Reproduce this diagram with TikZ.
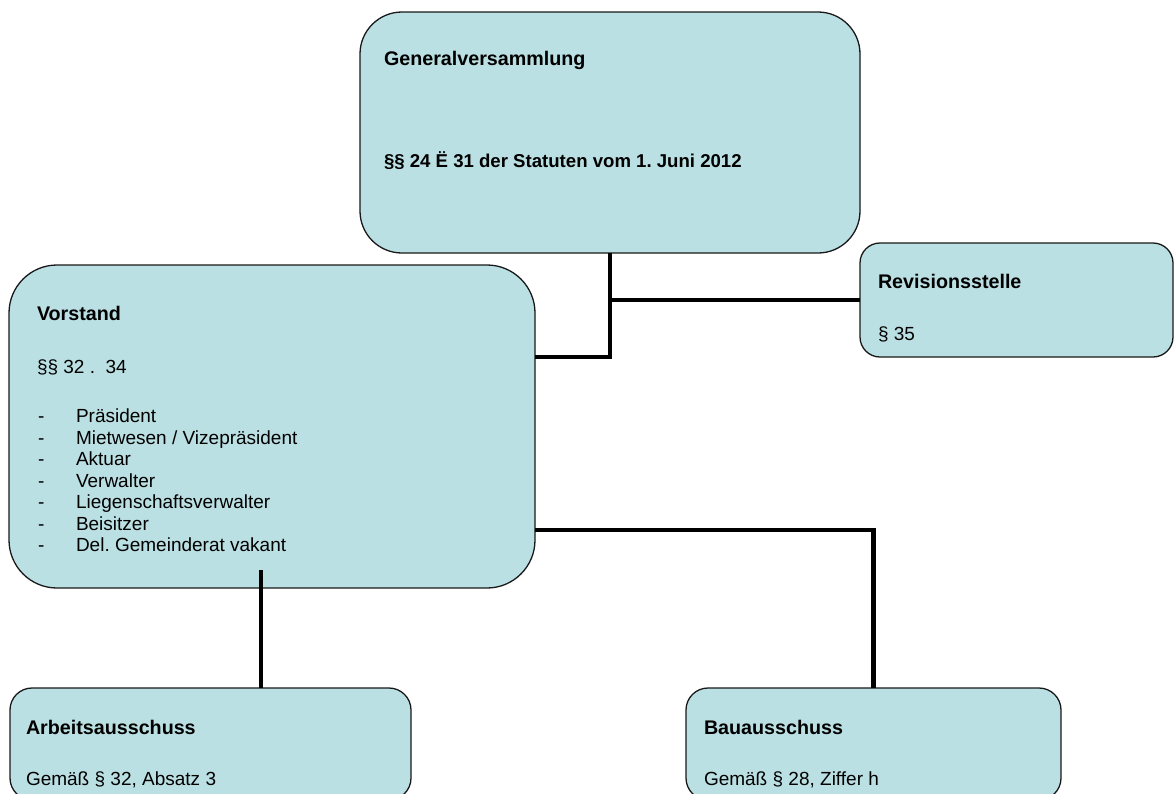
\documentclass[tikz,border=0pt]{standalone}
\usepackage{fontspec}
\setmainfont{Liberation Sans}
\definecolor{boxfill}{RGB}{187,224,227}
\frenchspacing
\begin{document}
\begin{tikzpicture}[x=1pt,y=-1pt,
  box/.style={draw=black!90, line width=1.3pt, fill=boxfill, inner sep=0pt, outer sep=0pt},
  txt/.style={anchor=base west, inner sep=0pt, outer sep=0pt, font=\fontsize{19}{21.5}\selectfont},
  head/.style={anchor=base west, inner sep=0pt, outer sep=0pt, font=\fontsize{19.7}{21.5}\selectfont\bfseries},
  conn/.style={line width=4.6pt, draw=black}]
\useasboundingbox (0,0) rectangle (1174,793);
\clip (0,0) rectangle (1174,793);

% boxes
\node[box, minimum width=500pt, minimum height=241pt, rounded corners=42pt] (gv) at (610,132.5) {};
\node[box, minimum width=313pt, minimum height=114pt, rounded corners=20pt] (rev) at (1016.5,300) {};
\node[box, minimum width=526pt, minimum height=323pt, rounded corners=48pt] (vs) at (272,426.5) {};
\node[box, minimum width=401pt, minimum height=112pt, rounded corners=22pt] (arb) at (210.5,744) {};
\node[box, minimum width=375pt, minimum height=112pt, rounded corners=22pt] (bau) at (873.5,744) {};

% texts
\node[head] (gvt1) at (384,65) {Generalversammlung};
\node[head, font=\fontsize{18.6}{21.5}\selectfont\bfseries] (gvt2) at (384,167) {§§ 24 Ë 31 der Statuten vom 1. Juni 2012};
\node[head] (revt1) at (878,288) {Revisionsstelle};
\node[txt] (revt2) at (878,340) {§ 35};
\node[head] (vst1) at (37,320) {Vorstand};
\node[txt] (vst2) at (37,373) {§§ 32 .\ \ 34};
\foreach \t [count=\i] in {Präsident, Mietwesen / Vizepräsident, Aktuar, Verwalter, Liegenschaftsverwalter, Beisitzer, Del. Gemeinderat vakant}{
  \node[txt] (dash\i) at (38,{422.7+21.5*(\i-1)}) {-};
  \node[txt] (item\i) at (76,{422.7+21.5*(\i-1)}) {\t};
}
\node[head] (arbt1) at (26,734) {Arbeitsausschuss};
\node[txt] (arbt2) at (26,785) {Gemäß § 32, Absatz 3};
\node[head] (baut1) at (704,734) {Bauausschuss};
\node[txt] (baut2) at (704,785) {Gemäß § 28, Ziffer h};

% connectors
\coordinate (j1) at (610,357);
\coordinate (j2) at (610,300);
\coordinate (j3) at (873.5,530);
\coordinate (j4) at (261,570);
\draw[conn] (gv.south) -- (j1) -- (vs.east |- j1);
\draw[conn] (j2) -- (rev.west);
\draw[conn] (vs.east |- j3) -- (j3) -- (bau.north);
\draw[conn] (j4) -- (j4 |- arb.north);
\end{tikzpicture}
\end{document}
